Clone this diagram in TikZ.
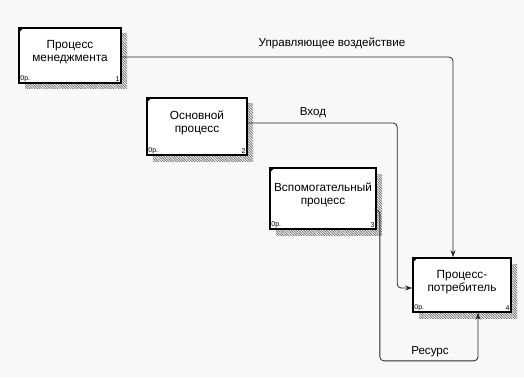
\documentclass[tikz,border=0pt]{standalone}
\usepackage{fontspec}
\setmainfont{Liberation Sans}
\usetikzlibrary{arrows.meta,shadows,patterns.meta}
\usepackage{xcolor}
\definecolor{paper}{RGB}{248,248,248}
\definecolor{hatchgray}{RGB}{105,105,105}
\definecolor{wire}{RGB}{40,40,40}

\begin{document}
\begin{tikzpicture}[x=1pt,y=-1pt,>={Stealth[length=7pt,width=5pt]},semithick]
  \tikzstyle{func}=[draw,line width=1.7pt,fill=white,align=center,inner sep=0pt,
    text depth=9pt,font=\fontsize{11.8}{13}\selectfont,
    general shadow={shadow xshift=6pt,shadow yshift=-6pt,fill=paper,
      pattern={Lines[angle=-45,distance=1.8pt,line width=0.7pt]},pattern color=hatchgray}]
  \tikzstyle{corner}=[inner sep=1pt,font=\fontsize{7}{8}\selectfont]
  \tikzstyle{arr}=[->,line width=0.8pt,draw=wire,rounded corners=4pt]
  \tikzstyle{lbl}=[font=\fontsize{11.6}{13}\selectfont]

  \fill[paper] (0,0) rectangle (524,377);
  \useasboundingbox (0,0) rectangle (524,377);

  \node[func,minimum width=102pt,minimum height=55pt] (pm)   at (70,55.5)  {Процесс\\менеджмента};
  \node[func,minimum width=100pt,minimum height=57pt] (osn)  at (197,126.5) {Основной\\процесс};
  \node[func,minimum width=106pt,minimum height=61pt] (aux)  at (323,198.5) {Вспомогательный\\процесс};
  \node[func,minimum width=98pt,minimum height=54pt]  (cons) at (462,285)   {Процесс-\\потребитель};

  % corner marks and numbers
  \foreach \b/\n in {pm/1,osn/2,aux/3,cons/4}{
    \fill ([shift={(0.5,0.5)}]\b.north west) -- ++(5,0) -- ++(-5,5) -- cycle;
    \node[corner,anchor=south west] (\b-op) at ([shift={(1,-1)}]\b.south west) {0р.};
    \node[corner,anchor=south east] (\b-num) at ([shift={(-1,-1)}]\b.south east) {\n};
  }

  \draw[arr] ([yshift=-1.5pt]pm.east) -| ([xshift=-9pt]cons.north);
  \draw[arr] ([yshift=3.5pt]osn.east) -| ([xshift=-15pt,yshift=-3pt]cons.west) -- ([yshift=-3pt]cons.west);
  \draw[arr] ([yshift=-11.5pt]aux.east) -- ++(3,0) |- ([xshift=16pt,yshift=-48pt]cons.south) -- ([xshift=16pt]cons.south);

  \node[lbl] (ctrl) at (332,43)  {Управляющее воздействие};
  \node[lbl] (inp)  at (313,113) {Вход};
  \node[lbl] (res)  at (430,352) {Ресурс};
\end{tikzpicture}
\end{document}
